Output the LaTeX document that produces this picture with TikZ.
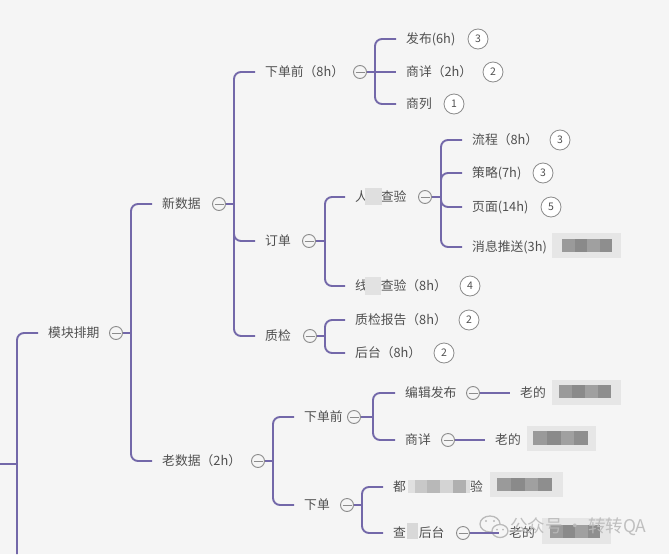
\documentclass[tikz,border=0pt]{standalone}
\usepackage{fontspec}
\setmainfont{Noto Sans CJK SC}
\usetikzlibrary{backgrounds}
\definecolor{bg}{HTML}{F5F5F5}
\definecolor{conncol}{HTML}{7368A9}
\definecolor{txt}{HTML}{505050}
\definecolor{foldcol}{HTML}{8C8C8C}
\definecolor{boxbg}{HTML}{E6E6E6}
\definecolor{wm}{HTML}{BABABA}
\definecolor{blkA}{HTML}{9A9A9A}
\definecolor{blkB}{HTML}{8A8A8A}
\definecolor{blkC}{HTML}{A0A0A0}
\definecolor{blkD}{HTML}{8E8E8E}
\definecolor{pDF}{HTML}{DFDFDF}
\definecolor{pE2}{HTML}{E2E2E2}
\definecolor{pE0}{HTML}{E0E0E0}
\definecolor{pC8}{HTML}{C8C8C8}
\definecolor{pB8}{HTML}{B8B8B8}
\definecolor{pD4}{HTML}{D4D4D4}
\definecolor{pB0}{HTML}{B0B0B0}
\definecolor{pDD}{HTML}{DDDDDD}
\definecolor{pD8}{HTML}{D8D8D8}
\newcommand\imgph[8]{%
  \fill[boxbg] (#1,#2) rectangle (#3,#4);
  \pgfmathsetmacro\imgbw{(#7-#5)/4}
  \fill[blkA] (#5,#6) rectangle ({#5+\imgbw},#8);
  \fill[blkB] ({#5+\imgbw},#6) rectangle ({#5+2*\imgbw},#8);
  \fill[blkC] ({#5+2*\imgbw},#6) rectangle ({#5+3*\imgbw},#8);
  \fill[blkD] ({#5+3*\imgbw},#6) rectangle (#7,#8);
}
\tikzset{
  conn/.style={draw=conncol, line width=1.9pt},
  corner/.style={conn, rounded corners=7pt},
  lbl/.style={anchor=west, inner xsep=10pt, inner ysep=0pt, text height=10.5pt, text depth=1pt, text=txt, font=\fontsize{12.8pt}{15pt}\selectfont},
  fold/.style={circle, draw=foldcol, fill=bg, line width=0.9pt, minimum size=13pt, inner sep=0pt,
    path picture={\draw[foldcol,line width=0.9pt] ([xshift=-4.5pt]path picture bounding box.center) -- ([xshift=4.5pt]path picture bounding box.center);}},
  badge/.style={circle, draw=foldcol, fill=white, line width=0.8pt, minimum size=20pt, inner sep=0pt, text=txt, font=\fontsize{10.5pt}{12pt}\selectfont},
}
\begin{document}
\begin{tikzpicture}[x=1pt,y=-1pt]
\useasboundingbox (0,0) rectangle (669,554);

% ---------- nodes ----------
\node[lbl] (mk) at (38,333) {模块排期};
\node[fold] (fmk) at (116,333) {};
\coordinate (jmk) at (131,333);

\node[lbl] (xsj) at (152,204) {新数据};
\node[fold] (fxsj) at (219,204) {};
\coordinate (jxsj) at (234,204);

\node[lbl] (lsj) at (152,461) {老数据（2h）};
\node[fold] (flsj) at (258,461) {};
\coordinate (jlsj) at (273,461);

\node[lbl] (xdq) at (255,72) {下单前（8h）};
\node[fold] (fxdq) at (360,72) {};
\coordinate (jxdq) at (375,72);

\node[lbl] (dd) at (255,241) {订单};
\node[fold] (fdd) at (309,241) {};
\coordinate (jdd) at (325,241);

\node[lbl] (zj) at (255,336) {质检};
\node[fold] (fzj) at (310,336) {};
\coordinate (jzj) at (325,336);

\node[lbl] (fb) at (396,39) {发布(6h)};
\node[badge] (bfb) at (478,39) {3};
\node[lbl] (sx) at (396,72) {商详（2h）};
\node[badge] (bsx) at (493,72) {2};
\node[lbl] (sl) at (396,104) {商列};
\node[badge] (bsl) at (454,104) {1};

\node[lbl] (rg) at (345,197) {人\phantom{工}查验};
\node[fold] (frg) at (425,197) {};
\coordinate (jrg) at (441,197);
\node[lbl] (xs) at (345,286) {线\phantom{上}查验（8h）};
\node[badge] (bxs) at (470,286) {4};

\node[lbl] (lc) at (462,140) {流程（8h）};
\node[badge] (blc) at (560,140) {3};
\node[lbl] (cl) at (462,173) {策略(7h)};
\node[badge] (bcl) at (543,173) {3};
\node[lbl] (ym) at (462,207) {页面(14h)};
\node[badge] (bym) at (551,207) {5};
\node[lbl] (xx) at (462,247) {消息推送(3h)};

\node[lbl] (zjbg) at (345,320) {质检报告（8h）};
\node[badge] (bzjbg) at (469,320) {2};
\node[lbl] (ht) at (345,353) {后台（8h）};
\node[badge] (bht) at (444,353) {2};

\node[lbl] (xdq2) at (294,417) {下单前};
\node[fold] (fxdq2) at (354,417) {};
\coordinate (jxdq2) at (373,417);
\node[lbl] (xd2) at (294,505) {下单};
\node[fold] (fxd2) at (347,505) {};
\coordinate (jxd2) at (362,505);

\node[lbl] (bjfb) at (395,393) {编辑发布};
\node[fold] (fbjfb) at (473,393) {};
\node[lbl] (lao1) at (510,393) {老的};
\node[lbl] (sx2) at (395,440) {商详};
\node[fold] (fsx2) at (448,440) {};
\node[lbl] (lao2) at (485,440) {老的};
\node[lbl] (dou) at (383,487) {都\phantom{一二三四五}验};
\node[lbl] (cha) at (383,533) {查\phantom{一}后台};
\node[fold] (fcha) at (463,533) {};
\node[lbl] (lao3) at (499,533) {老的};

\coordinate (r0) at (0,464);
\coordinate (rb) at (17,464);
\coordinate (rbot) at (17,554);

% ---------- blurred text patches ----------
\fill[pDF] (365,188) rectangle (382,205);
\fill[pE2] (365,277) rectangle (381,295);
\fill[pE0] (408,480) rectangle (415,493);
\fill[pC8] (415,480) rectangle (427,493);
\fill[pB8] (427,480) rectangle (440,493);
\fill[pD4] (440,480) rectangle (453,493);
\fill[pB0] (453,480) rectangle (466,493);
\fill[pDD] (466,480) rectangle (470,493);
\fill[pD8] (407,523) rectangle (418,539);

% ---------- image placeholders ----------
\imgph{552}{233}{621}{258}{562}{239}{612}{252}
\imgph{552}{380}{621}{405}{559}{385}{611}{398}
\imgph{527}{426}{596}{451}{533}{431}{588}{445}
\imgph{490}{472}{563}{497}{497}{478}{552}{491}
\imgph{542}{518}{611}{544}{550}{525}{600}{538}

% ---------- watermark text (on top) ----------
\node[anchor=west, inner sep=0pt, text=wm, text opacity=0.9, font=\fontsize{17.5pt}{19pt}\selectfont] (wmtext) at (510,527) {公众号 · 转转QA};

% ---------- background, watermark icon, connectors ----------
\begin{scope}[on background layer]
\fill[bg] (0,0) rectangle (669,554);
\draw[wm, line width=1.3pt] (490,524) ellipse [x radius=10, y radius=8];
\fill[wm] (486,521) circle (1.2);
\fill[wm] (494,521) circle (1.2);
\draw[wm, line width=1.3pt, fill=bg] (500,531) ellipse [x radius=8, y radius=6.5];
\fill[wm] (497,529.5) circle (1);
\fill[wm] (503,529.5) circle (1);
% connectors
\draw[conn] (r0) -- (rb);
\draw[corner] (rbot) |- (mk.west);
\draw[conn] (fmk.east) -- (jmk);
\draw[corner] (jmk) |- (xsj.west);
\draw[corner] (jmk) |- (lsj.west);
\draw[conn] (fxsj.east) -- (jxsj);
\draw[corner] (jxsj) |- (xdq.west);
\draw[corner] (jxsj) |- (dd.west);
\draw[corner] (jxsj) |- (zj.west);
\draw[conn] (fxdq.east) -- (jxdq);
\draw[corner] (jxdq) |- (fb.west);
\draw[conn] (jxdq) -- (sx.west);
\draw[corner] (jxdq) |- (sl.west);
\draw[conn] (fdd.east) -- (jdd);
\draw[corner] (jdd) |- (rg.west);
\draw[corner] (jdd) |- (xs.west);
\draw[conn] (frg.east) -- (jrg);
\draw[corner] (jrg) |- (lc.west);
\draw[corner] (jrg) |- (cl.west);
\draw[corner] (jrg) |- (ym.west);
\draw[corner] (jrg) |- (xx.west);
\draw[conn] (fzj.east) -- (jzj);
\draw[corner] (jzj) |- (zjbg.west);
\draw[corner] (jzj) |- (ht.west);
\draw[conn] (flsj.east) -- (jlsj);
\draw[corner] (jlsj) |- (xdq2.west);
\draw[corner] (jlsj) |- (xd2.west);
\draw[conn] (fxdq2.east) -- (jxdq2);
\draw[corner] (jxdq2) |- (bjfb.west);
\draw[corner] (jxdq2) |- (sx2.west);
\draw[conn] (fxd2.east) -- (jxd2);
\draw[corner] (jxd2) |- (dou.west);
\draw[corner] (jxd2) |- (cha.west);
\draw[conn] (fbjfb.east) -- (lao1.west);
\draw[conn] (fsx2.east) -- (lao2.west);
\draw[conn] (fcha.east) -- (lao3.west);
\end{scope}
\end{tikzpicture}
\end{document}
